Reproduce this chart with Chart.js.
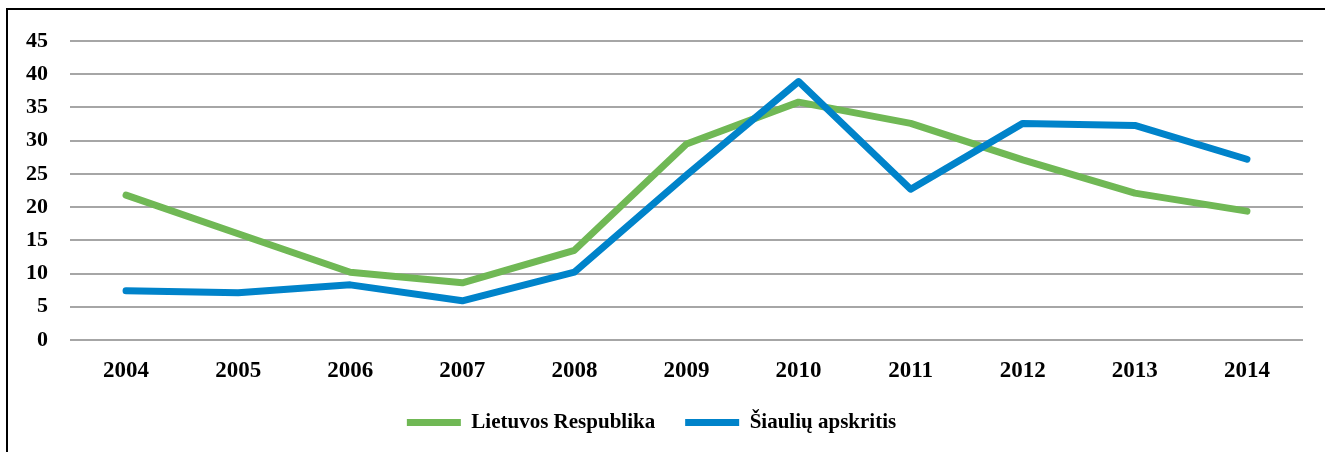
<!DOCTYPE html>
<html lang="lt">
<head>
    <meta charset="UTF-8">
    <title>Lietuvos Respublika ir Šiaulių apskritis</title>
    <script src="https://cdn.jsdelivr.net/npm/chart.js"></script>
    <style>
        body {
            margin: 0;
            background-color: #ffffff;
            width: 1325px;
            height: 452px;
            overflow: hidden;
            position: relative;
        }
        .frame {
            position: absolute;
            left: 6px;
            top: 8px;
            width: 1400px;
            height: 500px;
            border-left: 2px solid #000;
            border-top: 2px solid #000;
            pointer-events: none;
        }
        .chart-box {
            position: absolute;
            left: 0;
            top: 0;
            width: 1325px;
            height: 443px;
        }
    </style>
</head>
<body>
    <div class="chart-box">
        <canvas id="chart"></canvas>
    </div>
    <div class="frame"></div>
    <script>
        // data
        const years = ['2004', '2005', '2006', '2007', '2008', '2009', '2010', '2011', '2012', '2013', '2014'];
        const lietuva = [21.8, 16.0, 10.2, 8.6, 13.5, 29.5, 35.8, 32.6, 27.1, 22.1, 19.4];
        const siauliai = [7.4, 7.1, 8.3, 5.9, 10.2, 24.8, 38.9, 22.7, 32.6, 32.3, 27.2];
        const yTicks = [0, 5, 10, 15, 20, 25, 30, 35, 40, 45];

        const serif = '"Liberation Serif", "Times New Roman", serif';

        new Chart(document.getElementById('chart'), {
            type: 'line',
            data: {
                labels: years,
                datasets: [{
                    label: 'Lietuvos Respublika',
                    data: lietuva,
                    borderColor: '#70b855',
                    backgroundColor: '#70b855',
                    borderWidth: 7,
                    borderCapStyle: 'round',
                    borderJoinStyle: 'round',
                    pointRadius: 0,
                    tension: 0,
                    order: 1
                }, {
                    label: 'Šiaulių apskritis',
                    data: siauliai,
                    borderColor: '#0083ca',
                    backgroundColor: '#0083ca',
                    borderWidth: 7,
                    borderCapStyle: 'round',
                    borderJoinStyle: 'round',
                    pointRadius: 0,
                    tension: 0,
                    order: 0
                }]
            },
            options: {
                responsive: true,
                maintainAspectRatio: false,
                animation: false,
                layout: {
                    padding: { top: 41, right: 22, bottom: 0, left: 0 }
                },
                plugins: {
                    legend: {
                        position: 'bottom',
                        labels: {
                            color: '#000',
                            font: { family: serif, size: 21, weight: 'bold' },
                            usePointStyle: true,
                            pointStyle: 'line',
                            pointStyleWidth: 54,
                            padding: 30,
                            sort: (a, b) => a.datasetIndex - b.datasetIndex
                        }
                    },
                    tooltip: { enabled: false }
                },
                scales: {
                    x: {
                        offset: true,
                        grid: { display: false, offset: true },
                        border: { display: false },
                        ticks: { color: '#000', font: { family: serif, size: 23, weight: 'bold' }, padding: 9, maxRotation: 0 },
                        afterFit: (scale) => { scale.height = 42; }
                    },
                    y: {
                        min: 0,
                        max: 45,
                        afterBuildTicks: (scale) => { scale.ticks = yTicks.map(v => ({ value: v })); },
                        grid: { color: '#a6a6a6', lineWidth: 2, drawTicks: false },
                        border: { display: false },
                        ticks: { color: '#000', font: { family: serif, size: 22, weight: 'bold' }, padding: 22 },
                        afterFit: (scale) => { scale.width = 70; }
                    }
                }
            }
        });
    </script>
</body>
</html>
